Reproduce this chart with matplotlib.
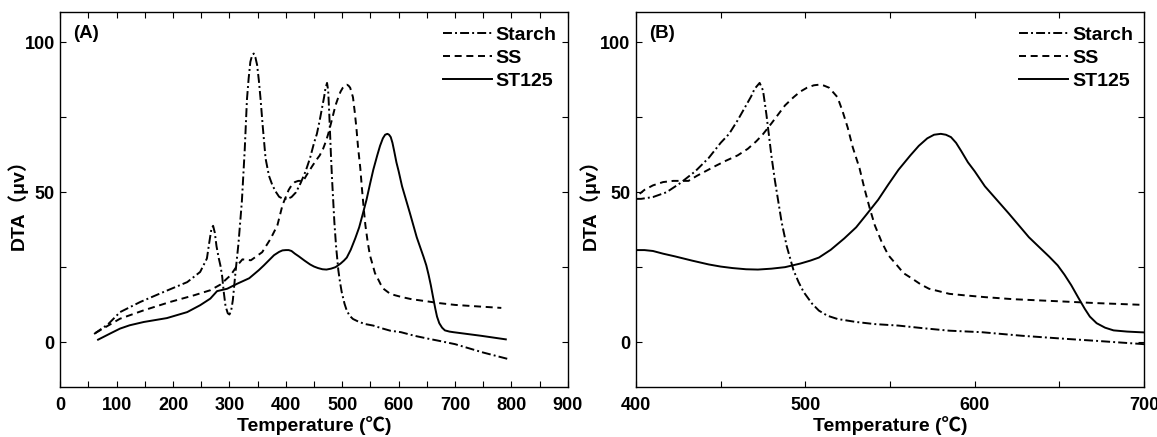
import numpy as np
import matplotlib
matplotlib.use('Agg')
import matplotlib.pyplot as plt
from matplotlib.ticker import MultipleLocator

plt.rcParams['font.family'] = ['Liberation Sans', 'Noto Sans CJK JP', 'DejaVu Sans']
plt.rcParams['font.weight'] = 'bold'
plt.rcParams['axes.labelweight'] = 'bold'

# DTA curves (temperature in degC, signal in uV)
starch_T = [60, 85, 106, 142, 183, 225, 248, 260, 264, 268, 271, 274, 277, 281, 284,
            287, 290, 293, 297, 300, 303, 306, 310, 316, 322, 327, 331, 334, 337, 340,
            343, 346, 349, 352, 355, 359, 364, 370, 376, 382, 388, 395, 403, 410, 418,
            426, 435, 443, 450, 455, 460, 464, 468, 470, 473, 475, 477, 480, 482, 484,
            486, 489, 493, 496, 499, 504, 508, 513, 519, 530, 541, 555, 570, 585, 604,
            628, 653, 672, 700, 750, 795]
starch_v = [2.7, 6.0, 10.0, 13.4, 16.7, 20.0, 23.4, 27.9, 33.0, 37.8, 38.8, 36.5, 32.0, 28.0, 25.5,
            22.0, 16.5, 12.0, 9.6, 9.2, 10.5, 14.0, 22.0, 33.0, 47.0, 64.0, 81.0, 88.0, 93.5, 95.6,
            96.3, 95.0, 92.5, 87.5, 81.4, 72.0, 61.3, 55.5, 52.4, 50.2, 48.5, 47.8, 47.8, 48.4, 50.0,
            53.0, 57.0, 61.5, 66.5, 69.5, 74.0, 78.0, 82.0, 84.5, 86.5, 84.0, 76.0, 62.0, 54.0, 47.0,
            40.0, 32.0, 24.0, 20.0, 16.7, 12.8, 10.5, 8.8, 7.7, 6.7, 6.0, 5.5, 4.6, 3.8, 3.3,
            2.1, 1.1, 0.4, -0.7, -3.5, -5.7]

ss_T = [62, 106, 148, 195, 237, 266, 284, 302, 314, 323, 338, 358, 373, 385, 394,
        400, 405, 410, 416, 422, 431, 436, 441, 447, 453, 460, 466, 471, 475, 480,
        484, 488, 493, 497, 501, 505, 508, 511, 514, 517, 519, 522, 525, 528, 532,
        535, 538, 541, 545, 549, 554, 558, 563, 568, 573, 585, 594, 606, 623, 650,
        672, 700, 740, 782]
ss_v = [3.0, 7.8, 10.6, 13.4, 15.6, 17.3, 19.2, 22.3, 25.6, 27.6, 27.3, 30.0, 34.5, 39.0, 45.7,
        48.5, 50.8, 52.3, 53.4, 53.8, 53.8, 55.5, 57.0, 58.8, 60.5, 62.3, 64.5, 67.0, 69.4, 73.0,
        76.0, 79.0, 81.7, 83.6, 84.9, 85.7, 85.9, 85.6, 84.9, 83.0, 81.7, 77.0, 71.6, 65.0, 58.0,
        51.0, 44.7, 39.0, 33.5, 29.0, 25.7, 23.0, 21.2, 19.3, 17.8, 16.1, 15.6, 15.0, 14.3, 13.6,
        13.0, 12.4, 11.9, 11.4]

st125_T = [67, 90, 106, 123, 148, 189, 225, 248, 266, 278, 296, 314, 335, 352, 361,
           370, 379, 388, 394, 400, 405, 410, 416, 423, 433, 443, 450, 457, 465, 472,
           480, 488, 497, 503, 508, 515, 523, 530, 536, 543, 549, 555, 562, 567, 572,
           576, 580, 583, 586, 589, 592, 596, 600, 606, 613, 620, 626, 632, 639, 644,
           649, 653, 657, 661, 665, 668, 672, 677, 682, 690, 697, 746, 790]
st125_v = [0.8, 3.0, 4.5, 5.6, 6.7, 8.0, 10.0, 12.3, 14.5, 17.0, 17.8, 19.5, 21.3, 24.0, 25.6,
           27.3, 29.0, 30.1, 30.6, 30.7, 30.7, 30.4, 29.5, 28.6, 27.2, 25.9, 25.2, 24.7, 24.3, 24.2,
           24.5, 25.0, 26.2, 27.2, 28.2, 30.8, 34.6, 38.3, 42.5, 47.5, 52.6, 57.5, 62.3, 65.5, 68.0,
           69.2, 69.5, 69.2, 68.4, 66.5, 63.8, 60.0, 57.0, 52.0, 47.5, 43.0, 39.0, 35.0, 31.2, 28.5,
           25.6, 22.5, 19.0, 15.0, 11.1, 8.5, 6.3, 4.8, 3.9, 3.5, 3.3, 2.1, 0.9]

labels = ['Starch', 'SS', 'ST125']
panels = ['(A)', '(B)']

fig = plt.figure(figsize=(11.57, 4.37), dpi=100)
ax1 = fig.add_axes([0.0521, 0.1144, 0.4387, 0.857])
ax2 = fig.add_axes([0.5497, 0.1144, 0.4391, 0.857])

for ax in [ax1, ax2]:
    ax.plot(starch_T, starch_v, color='black', lw=1.4, dashes=(4.6, 1.6, 1.0, 1.6), label=labels[0])
    ax.plot(ss_T, ss_v, color='black', lw=1.4, dashes=(3.6, 2.4), label=labels[1])
    ax.plot(st125_T, st125_v, color='black', lw=1.4, label=labels[2])
    ax.set_ylim(-15, 110)
    ax.yaxis.set_major_locator(MultipleLocator(50))
    ax.yaxis.set_minor_locator(MultipleLocator(25))
    ax.xaxis.set_major_locator(MultipleLocator(100))
    ax.xaxis.set_minor_locator(MultipleLocator(50))
    ax.tick_params(which='both', direction='in', top=True, right=True,
                   length=4, width=0.8, labelsize=13)
    ax.tick_params(axis='x', pad=7)
    ax.tick_params(axis='y', pad=4)
    ax.set_xlabel('Temperature (℃)', fontsize=14, labelpad=2)
    ax.set_ylabel('DTA（μv）', fontsize=14)
    for s in ax.spines.values():
        s.set_linewidth(1.0)
    ax.legend(loc='upper right', frameon=False, fontsize=14, handlelength=2.5,
              handletextpad=0.2, labelspacing=0.28, borderaxespad=0.3,
              bbox_to_anchor=(1.005, 1.0))

ax1.yaxis.set_label_coords(-0.064, 0.5)
ax2.yaxis.set_label_coords(-0.071, 0.5)
ax1.set_xlim(0, 900)
ax2.set_xlim(400, 700)

for ax, p in zip([ax1, ax2], panels):
    ax.text(0.026, 0.945, p, transform=ax.transAxes, fontsize=13.5, fontweight='bold',
            va='center', ha='left')

plt.savefig('out.png', dpi=100)
